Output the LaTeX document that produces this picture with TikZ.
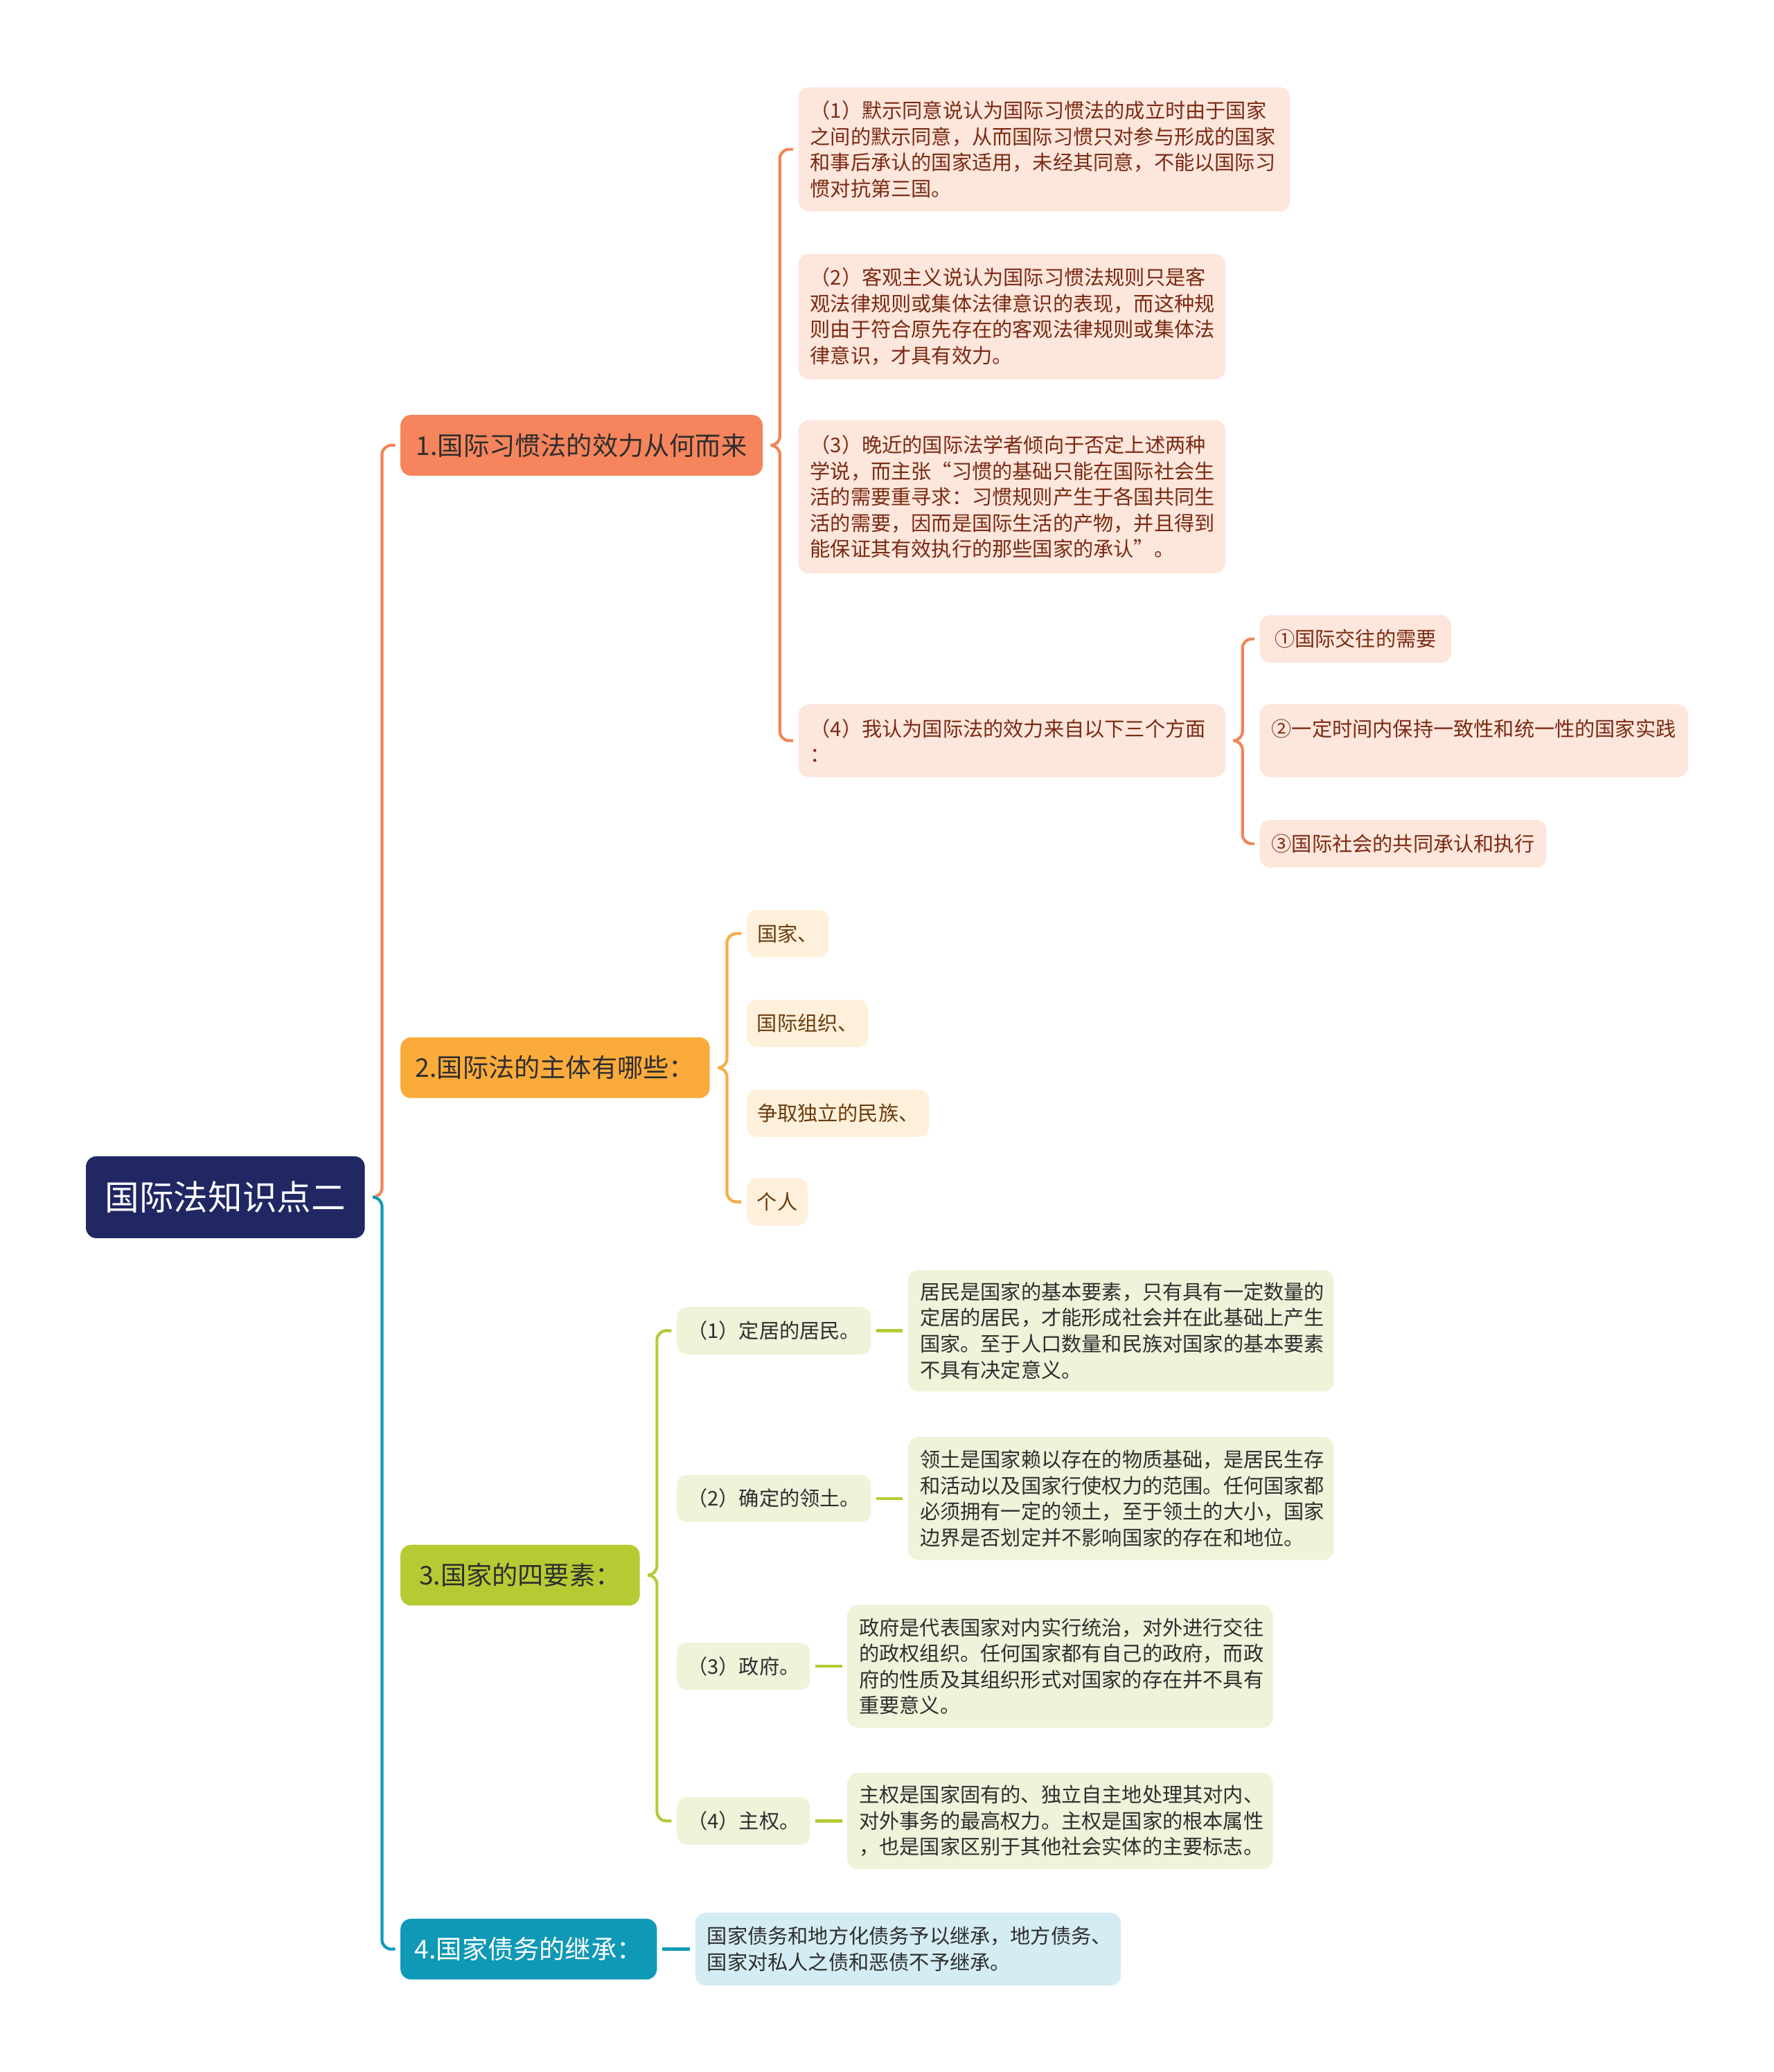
\documentclass[tikz,border=0pt]{standalone}
\usepackage{fontspec}
\setmainfont{Noto Sans CJK SC}

\definecolor{rootblue}{HTML}{212763}
\definecolor{coral}{HTML}{F6845C}
\definecolor{coralline}{HTML}{F08558}
\definecolor{pinkfill}{HTML}{FDE6DC}
\definecolor{pinktext}{HTML}{7A2A12}
\definecolor{amber}{HTML}{FBAB3B}
\definecolor{amberline}{HTML}{F5AE47}
\definecolor{creamfill}{HTML}{FEF0DB}
\definecolor{creamtext}{HTML}{6A3B0C}
\definecolor{olive}{HTML}{B6CA34}
\definecolor{olivefill}{HTML}{F0F2DA}
\definecolor{teal}{HTML}{0F99B6}
\definecolor{tealfill}{HTML}{D4ECF3}
\definecolor{darktext}{HTML}{2E2E2E}

\begin{document}
\begin{tikzpicture}[x=1pt,y=-1pt,
  box/.style={rounded corners=8pt, outer sep=0pt, inner sep=0pt, anchor=west, align=center},
  branch/.style={box, font=\fontsize{19.5}{24}\selectfont, minimum height=46pt},
  item/.style={box, font=\fontsize{15.3}{19.7}\selectfont, minimum height=36pt},
  leaf/.style={box, inner xsep=9pt, align=left, font=\fontsize{15.3}{19.7}\selectfont},
  brace/.style={line width=2.2pt, rounded corners=7pt,
    to path={([xshift=6pt]\tikztostart.east) -- ([xshift=13pt]\tikztostart.east) |- ([xshift=-4pt]\tikztotarget.west)}},
  stub/.style={line width=2.2pt, shorten <=4pt, shorten >=4pt}]
\useasboundingbox (0,0) rectangle (1342,1568);

% Wurzel
\node[box, fill=rootblue, text=white, font=\fontsize{26}{30}\selectfont, minimum width=211pt, minimum height=62pt] (root) at (65,906) {国际法知识点二};

% Hauptaeste
\node[branch, fill=coral, text=darktext, minimum width=274pt] (b1) at (303,337) {1.国际习惯法的效力从何而来};
\node[branch, fill=amber, text=darktext, minimum width=234pt] (b2) at (303,808) {2.国际法的主体有哪些：};
\node[branch, fill=olive, text=darktext, minimum width=181pt] (b3) at (303,1192) {3.国家的四要素：};
\node[branch, fill=teal, text=white, minimum width=194pt] (b4) at (303,1475) {4.国家债务的继承：};

% Ast 1
\node[leaf, fill=pinkfill, text=pinktext, text width=354pt, minimum height=94pt] (l1) at (604,113) {（1）默示同意说认为国际习惯法的成立时由于国家\\之间的默示同意，从而国际习惯只对参与形成的国家\\和事后承认的国家适用，未经其同意，不能以国际习\\惯对抗第三国。};
\node[leaf, fill=pinkfill, text=pinktext, text width=305pt, minimum height=95pt] (l2) at (604,239.5) {（2）客观主义说认为国际习惯法规则只是客\\观法律规则或集体法律意识的表现，而这种规\\则由于符合原先存在的客观法律规则或集体法\\律意识，才具有效力。};
\node[leaf, fill=pinkfill, text=pinktext, text width=305pt, minimum height=116pt] (l3) at (604,376) {（3）晚近的国际法学者倾向于否定上述两种\\学说，而主张“习惯的基础只能在国际社会生\\活的需要重寻求：习惯规则产生于各国共同生\\活的需要，因而是国际生活的产物，并且得到\\能保证其有效执行的那些国家的承认”。};
\node[leaf, fill=pinkfill, text=pinktext, text width=305pt, minimum height=55pt] (l4) at (604,560.5) {（4）我认为国际法的效力来自以下三个方面\\：};
\node[item, fill=pinkfill, text=pinktext, minimum width=145pt] (s1) at (953,483.5) {①国际交往的需要};
\node[leaf, fill=pinkfill, text=pinktext, text width=306pt, minimum height=55pt] (s2) at (953,560.5) {②一定时间内保持一致性和统一性的国家实践\\~};
\node[item, fill=pinkfill, text=pinktext, minimum width=217pt] (s3) at (953,638.5) {③国际社会的共同承认和执行};

% Ast 2
\node[item, fill=creamfill, text=creamtext, minimum width=62pt] (c1) at (565,706.5) {国家、};
\node[item, fill=creamfill, text=creamtext, minimum width=92pt] (c2) at (565,774.5) {国际组织、};
\node[item, fill=creamfill, text=creamtext, minimum width=138pt] (c3) at (565,842.5) {争取独立的民族、};
\node[item, fill=creamfill, text=creamtext, minimum width=46pt] (c4) at (565,909.5) {个人};

% Ast 3
\node[item, fill=olivefill, text=darktext, minimum width=147pt] (d1) at (512,1007) {（1）定居的居民。};
\node[item, fill=olivefill, text=darktext, minimum width=147pt] (d2) at (512,1134) {（2）确定的领土。};
\node[item, fill=olivefill, text=darktext, minimum width=101pt] (d3) at (512,1261) {（3）政府。};
\node[item, fill=olivefill, text=darktext, minimum width=101pt] (d4) at (512,1378) {（4）主权。};
\node[leaf, fill=olivefill, text=darktext, text width=304pt, minimum height=92pt] (e1) at (687,1007) {居民是国家的基本要素，只有具有一定数量的\\定居的居民，才能形成社会并在此基础上产生\\国家。至于人口数量和民族对国家的基本要素\\不具有决定意义。};
\node[leaf, fill=olivefill, text=darktext, text width=304pt, minimum height=93pt] (e2) at (687,1134) {领土是国家赖以存在的物质基础，是居民生存\\和活动以及国家行使权力的范围。任何国家都\\必须拥有一定的领土，至于领土的大小，国家\\边界是否划定并不影响国家的存在和地位。};
\node[leaf, fill=olivefill, text=darktext, text width=304pt, minimum height=93pt] (e3) at (641,1261) {政府是代表国家对内实行统治，对外进行交往\\的政权组织。任何国家都有自己的政府，而政\\府的性质及其组织形式对国家的存在并不具有\\重要意义。};
\node[leaf, fill=olivefill, text=darktext, text width=304pt, minimum height=73pt] (e4) at (641,1378) {主权是国家固有的、独立自主地处理其对内、\\对外事务的最高权力。主权是国家的根本属性\\，也是国家区别于其他社会实体的主要标志。};

% Ast 4
\node[leaf, fill=tealfill, text=darktext, text width=304pt, minimum height=55pt] (f1) at (526,1475) {国家债务和地方化债务予以继承，地方债务、\\国家对私人之债和恶债不予继承。};

% Verbindungen
\draw[brace, coralline] (root) to (b1);
\draw[brace, teal] (root) to (b4);
\draw[brace, coralline] (b1) to (l1);
\draw[brace, coralline] (b1) to (l4);
\draw[brace, coralline] (l4) to (s1);
\draw[brace, coralline] (l4) to (s3);
\draw[brace, amberline] (b2) to (c1);
\draw[brace, amberline] (b2) to (c4);
\draw[brace, olive] (b3) to (d1);
\draw[brace, olive] (b3) to (d4);
\draw[stub, olive] (d1) -- (e1);
\draw[stub, olive] (d2) -- (e2);
\draw[stub, olive] (d3) -- (e3);
\draw[stub, olive] (d4) -- (e4);
\draw[stub, teal] (b4) -- (f1);
\end{tikzpicture}
\end{document}
